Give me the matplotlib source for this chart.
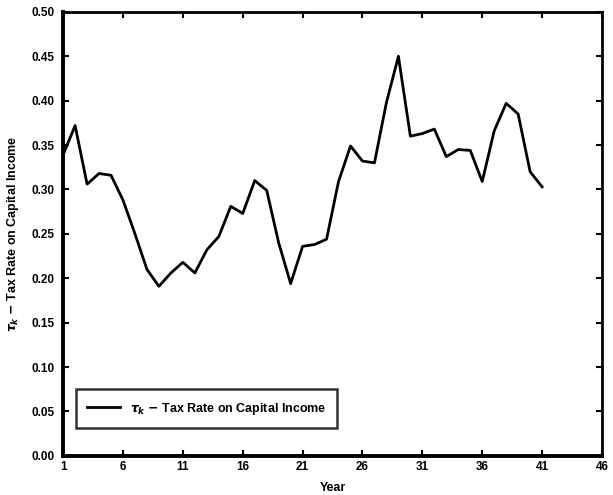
import numpy as np
import matplotlib
matplotlib.use("Agg")
import matplotlib.pyplot as plt

plt.rcParams['font.family'] = ['Liberation Sans', 'DejaVu Sans']
plt.rcParams['font.weight'] = 'bold'
plt.rcParams['mathtext.fontset'] = 'dejavusans'

# tax rate on capital income, years 1..41
years = np.arange(1, 42)
tau_k = [0.339, 0.372, 0.306, 0.318, 0.316, 0.288, 0.250, 0.210, 0.191, 0.206,
         0.218, 0.206, 0.232, 0.247, 0.281, 0.273, 0.310, 0.299, 0.240, 0.194,
         0.236, 0.238, 0.244, 0.309, 0.349, 0.332, 0.330, 0.398, 0.450, 0.360,
         0.363, 0.368, 0.337, 0.345, 0.344, 0.309, 0.366, 0.397, 0.385, 0.320,
         0.303]

xticks = [1, 6, 11, 16, 21, 26, 31, 36, 41, 46]
yticks = np.arange(0, 0.51, 0.05)

fig = plt.figure(figsize=(6.13, 4.95), dpi=100)
ax = fig.add_axes([0.103, 0.079, 0.879, 0.897])

label = r"$\tau_k$ $-$ Tax Rate on Capital Income"
ax.plot(years, tau_k, color='black', lw=2.0, label=label)

ax.set_xlim(1, 46)
ax.set_ylim(0, 0.5)
ax.set_xticks(xticks)
ax.set_yticks(yticks)
ax.set_yticklabels(["%.2f" % v for v in yticks])
ax.tick_params(direction='in', top=True, right=True, length=4, width=1.5,
               labelsize=8.5)
ax.tick_params(axis='x', pad=4)
ax.tick_params(axis='y', pad=6)
for lab in ax.get_xticklabels() + ax.get_yticklabels():
    lab.set_fontweight('bold')

for side in ['left', 'bottom']:
    ax.spines[side].set_linewidth(2.8)
for side in ['top', 'right']:
    ax.spines[side].set_linewidth(2.0)

ax.set_xlabel("Year", fontsize=9, fontweight='bold', labelpad=6)
ax.set_ylabel(label, fontsize=9, fontweight='bold', labelpad=8)

leg = ax.legend(loc='lower left', bbox_to_anchor=(0.024, 0.063), fontsize=9,
                frameon=True, fancybox=False, edgecolor='black',
                borderpad=0.9, handlelength=2.6, borderaxespad=0)
leg.get_frame().set_linewidth(1.8)
for t in leg.get_texts():
    t.set_fontweight('bold')

plt.savefig("out.png", dpi=100)
